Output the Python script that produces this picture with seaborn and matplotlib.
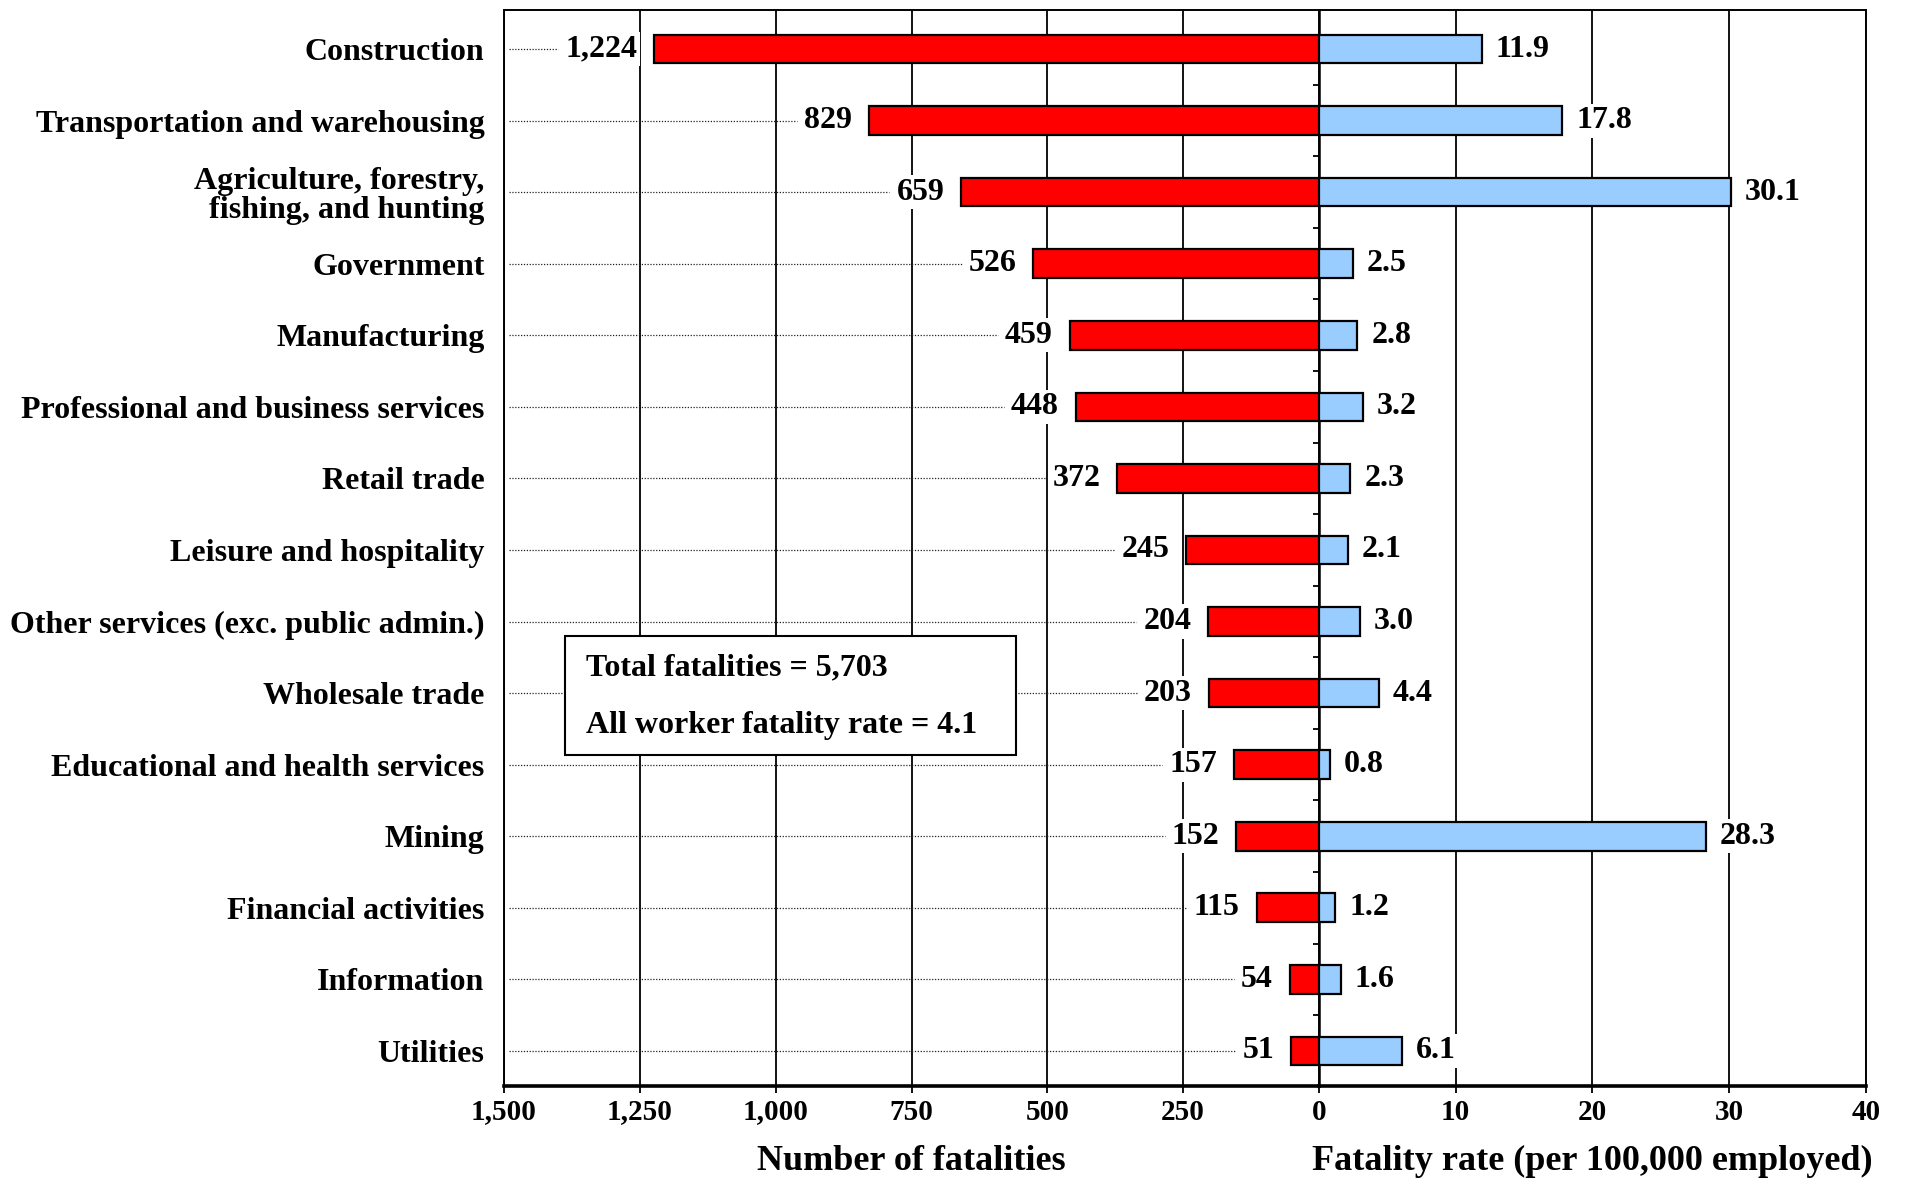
import numpy as np
import pandas as pd
import matplotlib
matplotlib.use("Agg")
import matplotlib.pyplot as plt
from matplotlib.patches import Rectangle
from matplotlib.ticker import FuncFormatter
import seaborn as sns

categories = [
    "Construction",
    "Transportation and warehousing",
    "Agriculture, forestry,\nfishing, and hunting",
    "Government",
    "Manufacturing",
    "Professional and business services",
    "Retail trade",
    "Leisure and hospitality",
    "Other services (exc. public admin.)",
    "Wholesale trade",
    "Educational and health services",
    "Mining",
    "Financial activities",
    "Information",
    "Utilities",
]
fatalities = [1224, 829, 659, 526, 459, 448, 372, 245, 204, 203, 157, 152, 115, 54, 51]
fatality_rate = [11.9, 17.8, 30.1, 2.5, 2.8, 3.2, 2.3, 2.1, 3.0, 4.4, 0.8, 28.3, 1.2, 1.6, 6.1]
count_ticks = [1500, 1250, 1000, 750, 500, 250, 0]
rate_ticks = [10, 20, 30, 40]
total_text = "Total fatalities = 5,703"
rate_text = "All worker fatality rate = 4.1"

df = pd.DataFrame({"category": categories, "count": fatalities, "rate": fatality_rate})

sns.set_style("white")
plt.rcParams["font.family"] = ["Liberation Serif", "DejaVu Serif"]
plt.rcParams["font.weight"] = "bold"
plt.rcParams["text.color"] = "black"
plt.rcParams["xtick.color"] = "black"
plt.rcParams["ytick.color"] = "black"
plt.rcParams["axes.labelcolor"] = "black"

FS = 23
TFS = 21
LFS = 26
fig = plt.figure(figsize=(19.15, 11.79), dpi=100)
L, R, B, T = 504 / 1915, 1866 / 1915, 1 - 1086 / 1179, 1 - 10 / 1179
xmid = 1319 / 1915
axL = fig.add_axes([L, B, xmid - L, T - B])
axR = fig.add_axes([xmid, B, R - xmid, T - B])

sns.barplot(data=df, x="count", y="category", orient="h", ax=axL, color="#FF0000",
            saturation=1, edgecolor="black", linewidth=1.6, width=0.4, zorder=3)
sns.barplot(data=df, x="rate", y="category", orient="h", ax=axR, color="#99CCFF",
            saturation=1, edgecolor="black", linewidth=1.6, width=0.4, zorder=3)

ylim = (14.49, -0.545)
for ax in (axL, axR):
    ax.set_ylim(*ylim)
    ax.set_ylabel("")
    ax.set_axisbelow(True)
    ax.grid(axis="x", color="black", linewidth=1.3)
    ax.grid(axis="y", visible=False)
    for s in ax.spines.values():
        s.set_color("black")
        s.set_linewidth(1.4)
    ax.spines["bottom"].set_linewidth(2.6)

axL.set_xlim(1500, 0)
axL.set_xticks(count_ticks)
axL.xaxis.set_major_formatter(FuncFormatter(lambda v, p: f"{int(v):,}"))
axL.spines["right"].set_visible(False)
axL.set_yticks(range(len(categories)))
axL.set_yticklabels(categories, fontsize=FS, fontweight="bold", linespacing=1.0)
axL.tick_params(axis="y", length=0, pad=14)

axR.set_xlim(0, 40)
axR.set_xticks(rate_ticks)
axR.spines["left"].set_linewidth(1.8)
axR.set_yticks(np.arange(len(categories) - 1) + 0.5)
axR.set_yticklabels([])
axR.tick_params(axis="y", direction="out", length=4.5, width=1.3, left=True)

for ax in (axL, axR):
    ax.tick_params(axis="x", direction="out", length=5, width=1.3, pad=4,
                   labelsize=TFS, bottom=True)
    for lab in ax.get_xticklabels():
        lab.set_fontweight("bold")

axL.set_xlabel("Number of fatalities", fontsize=LFS, fontweight="bold", labelpad=14)
axR.set_xlabel("Fatality rate (per 100,000 employed)", fontsize=LFS, fontweight="bold", labelpad=14)

# value labels
bg = dict(boxstyle="square,pad=0.08", facecolor="white", edgecolor="none")
left_texts = []
for i, v in enumerate(df["count"]):
    t = axL.annotate(f"{v:,}", xy=(v, i), xytext=(-12, 0), textcoords="offset points",
                     ha="right", va="center", fontsize=FS, fontweight="bold", zorder=4,
                     bbox=bg)
    left_texts.append(t)
for i, v in enumerate(df["rate"]):
    axR.annotate(f"{v:.1f}", xy=(v, i), xytext=(10, 0), textcoords="offset points",
                 ha="left", va="center", fontsize=FS, fontweight="bold", zorder=4,
                 bbox=bg)

# summary box
axL.add_patch(Rectangle((0.075, 0.3076), 0.553, 0.1106, transform=axL.transAxes,
                        facecolor="white", edgecolor="black", linewidth=1.5, zorder=5))
axL.text(0.1006, 0.3885, total_text, transform=axL.transAxes, ha="left", va="center",
         fontsize=FS, fontweight="bold", zorder=6)
axL.text(0.1006, 0.3355, rate_text, transform=axL.transAxes, ha="left", va="center",
         fontsize=FS, fontweight="bold", zorder=6)

# dotted leader lines from the left frame to each count label
fig.canvas.draw()
renderer = fig.canvas.get_renderer()
inv = axL.transData.inverted()
x_left_disp = axL.transAxes.transform((0, 0))[0] + 5
for i, t in enumerate(left_texts):
    bb = t.get_window_extent(renderer)
    y_disp = axL.transData.transform((0, i))[1]
    x0 = inv.transform((x_left_disp, y_disp))[0]
    x1 = inv.transform((bb.x0 - 7, y_disp))[0]
    axL.plot([x0, x1], [i, i], color="#222222", linewidth=0.9,
             linestyle=(0, (1, 1.3)), zorder=2)

fig.savefig("out.png", dpi=100)
